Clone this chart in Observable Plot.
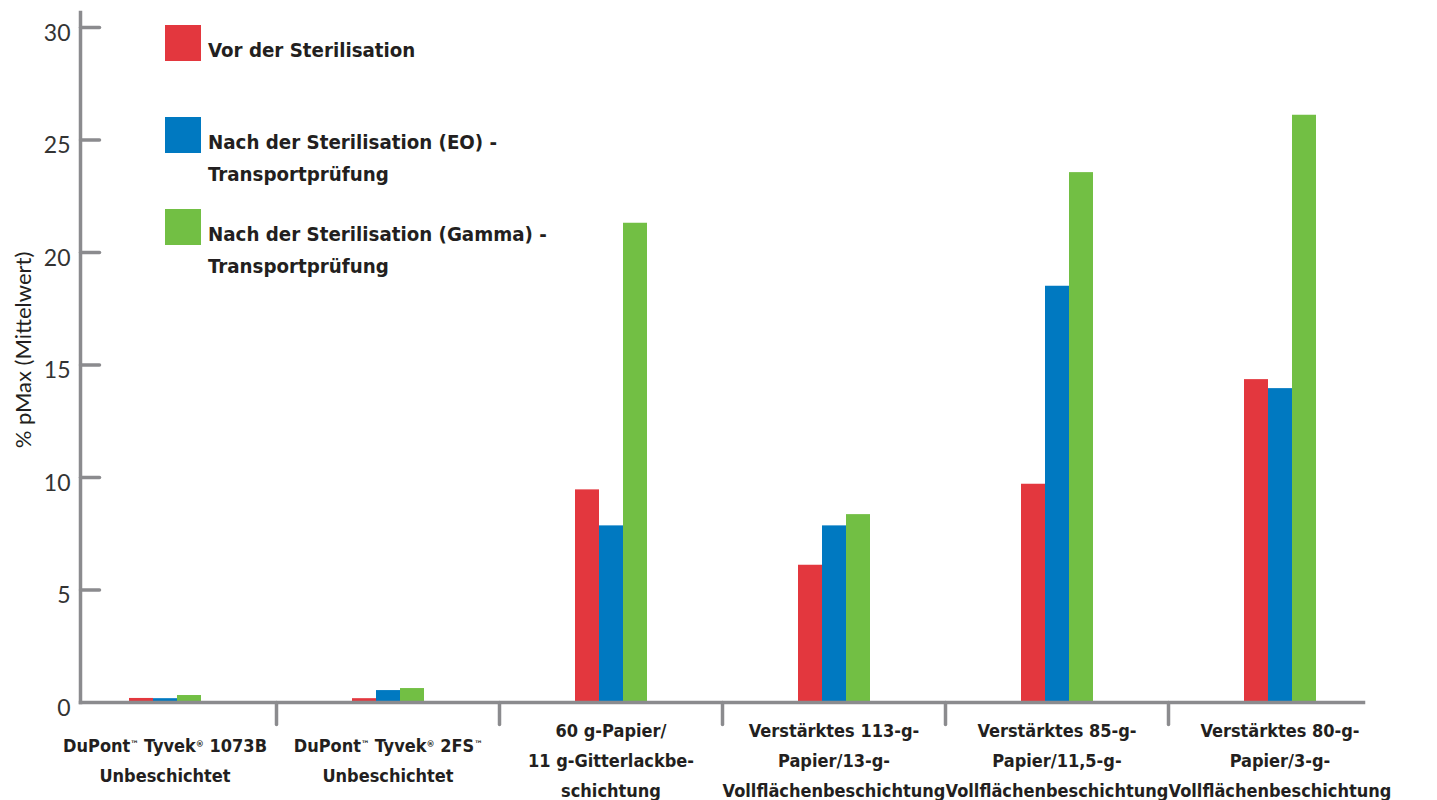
<!DOCTYPE html>
<html lang="de">
<head>
<meta charset="utf-8">
<title>% pMax (Mittelwert)</title>
<script src="https://cdn.jsdelivr.net/npm/d3@7"></script>
<script src="https://cdn.jsdelivr.net/npm/@observablehq/plot@0.6"></script>
<style>
  html, body { margin: 0; padding: 0; background: #fff; }
  #chart { position: relative; width: 1437px; height: 800px; overflow: hidden; }
  #chart svg { display: block; }
  .legend { position: absolute; left: 165px; top: 25px; font-family: "DejaVu Sans Condensed", sans-serif; font-weight: bold; font-size: 20.3px; color: #231f20; }
  .legend .item { position: absolute; left: 0; width: 420px; }
  .legend .swatch { position: absolute; left: 0; top: 0; width: 36px; height: 36px; }
  .legend .label { position: absolute; left: 43px; top: 9px; line-height: 32px; white-space: pre; }
  .ytitle { position: absolute; left: 22px; top: 350px; transform: translate(-50%, -50%) rotate(-90deg); white-space: nowrap; font-family: Lato, "Open Sans", sans-serif; font-size: 22px; color: #231f20; }
</style>
</head>
<body>
<div id="chart"></div>
<script>
// Categories (x axis, line breaks as drawn under each group)
const categories = [
  "DuPont™ Tyvek® 1073B\nUnbeschichtet",
  "DuPont™ Tyvek® 2FS™\nUnbeschichtet",
  "60 g-Papier/\n11 g-Gitterlackbe-\nschichtung",
  "Verstärktes 113-g-\nPapier/13-g-\nVollflächenbeschichtung",
  "Verstärktes 85-g-\nPapier/11,5-g-\nVollflächenbeschichtung",
  "Verstärktes 80-g-\nPapier/3-g-\nVollflächenbeschichtung"
];

// Series names and colours
const series = [
  "Vor der Sterilisation",
  "Nach der Sterilisation (EO) -\nTransportprüfung",
  "Nach der Sterilisation (Gamma) -\nTransportprüfung"
];
const seriesColors = ["#e3373e", "#0079c1", "#72bf44"];

// % pMax (Mittelwert) per category
const vorSterilisation = [0.18, 0.17, 9.45, 6.1, 9.7, 14.35];
const nachEO = [0.17, 0.53, 7.85, 7.85, 18.5, 13.95];
const nachGamma = [0.31, 0.62, 21.3, 8.35, 23.55, 26.1];

const yTicks = [0, 5, 10, 15, 20, 25, 30];
const yLabel = "% pMax (Mittelwert)";

const valuesBySeries = [vorSterilisation, nachEO, nachGamma];
const rows = categories.flatMap((category, i) =>
  series.map((s, j) => ({category, series: s, value: valuesBySeries[j][i]}))
);

// the axis lines sit slightly inside the outer category bands
const axisInsetLeft = 27;
const axisInsetRight = 28;

const axisGray = "#8b8b8e";
const textColor = "#231f20";
const boldFont = '"DejaVu Sans Condensed", sans-serif';
const tickFont = 'Lato, "Open Sans", sans-serif';

// a plain line segment for vector marks (axis ticks)
const lineShape = {
  draw(context, l) {
    context.moveTo(0, 0);
    context.lineTo(0, -l);
  }
};

const firstCategory = () => categories[0];

const chart = Plot.plot({
  width: 1437,
  height: 800,
  marginTop: 27,
  marginBottom: 98,
  marginLeft: 53,
  marginRight: 46,
  fx: {domain: categories, padding: 0, axis: null},
  x: {domain: series, paddingInner: 0, paddingOuter: 3.08, align: 0.5, axis: null},
  y: {domain: [0, 30], axis: null},
  color: {domain: series, range: seriesColors},
  style: {fontFamily: tickFont, color: textColor, background: "#fff"},
  marks: [
    // bars
    Plot.barY(rows, {fx: "category", x: "series", y: "value", fill: "series"}),

    // category baseline and separators
    Plot.frame({
      facet: "super", anchor: "bottom", stroke: axisGray, strokeWidth: 3.5,
      insetLeft: axisInsetLeft, insetRight: axisInsetRight
    }),
    Plot.vector(categories.slice(1), {
      fx: (d) => d, frameAnchor: "bottom-left", rotate: 180, length: 22,
      anchor: "start", shape: lineShape, stroke: axisGray, strokeWidth: 3.5
    }),

    // category labels
    Plot.text(categories, {
      fx: (d) => d, text: (d) => d, frameAnchor: "bottom", dy: 55,
      lineAnchor: "middle", lineHeight: 1.66, fontSize: 18, fontWeight: "bold",
      fontFamily: boldFont, fill: textColor
    }),

    // value axis
    Plot.frame({
      facet: "super", anchor: "left", stroke: axisGray, strokeWidth: 3.5,
      insetLeft: axisInsetLeft, insetTop: -15
    }),
    Plot.vector(yTicks.slice(1), {
      fx: firstCategory, y: (d) => d, frameAnchor: "left", dx: axisInsetLeft, rotate: 90, length: 19,
      anchor: "start", shape: lineShape, stroke: axisGray, strokeWidth: 3.5
    }),
    Plot.text(yTicks, {
      fx: firstCategory, y: (d) => d, text: (d) => String(d), frameAnchor: "left",
      dx: axisInsetLeft - 10, dy: 6, textAnchor: "end", fontSize: 23, fill: "#333"
    })
  ]
});

// set trademark signs as small superscripts
const svgNS = "http://www.w3.org/2000/svg";
chart.querySelectorAll("text").forEach((textEl) => {
  const lines = textEl.querySelectorAll("tspan");
  const targets = lines.length ? Array.from(lines) : [textEl];
  targets.forEach((el) => {
    const s = el.textContent;
    if (!/[™®]/.test(s)) return;
    el.textContent = "";
    s.split(/([™®])/).forEach((part) => {
      if (!part) return;
      if (part === "™" || part === "®") {
        const sup = document.createElementNS(svgNS, "tspan");
        sup.setAttribute("font-size", "0.5em");
        sup.setAttribute("baseline-shift", "super");
        sup.textContent = part;
        el.appendChild(sup);
      } else {
        el.appendChild(document.createTextNode(part));
      }
    });
  });
});

const root = document.getElementById("chart");
root.appendChild(chart);

// value axis title
const title = document.createElement("div");
title.className = "ytitle";
title.textContent = yLabel;
root.appendChild(title);

// legend in the upper left of the plot area
const legend = document.createElement("div");
legend.className = "legend";
series.forEach((s, j) => {
  const item = document.createElement("div");
  item.className = "item";
  item.style.top = (j * 92) + "px";
  const sw = document.createElement("div");
  sw.className = "swatch";
  sw.style.background = seriesColors[j];
  const label = document.createElement("div");
  label.className = "label";
  label.textContent = s;
  item.append(sw, label);
  legend.appendChild(item);
});
root.appendChild(legend);
</script>
</body>
</html>
